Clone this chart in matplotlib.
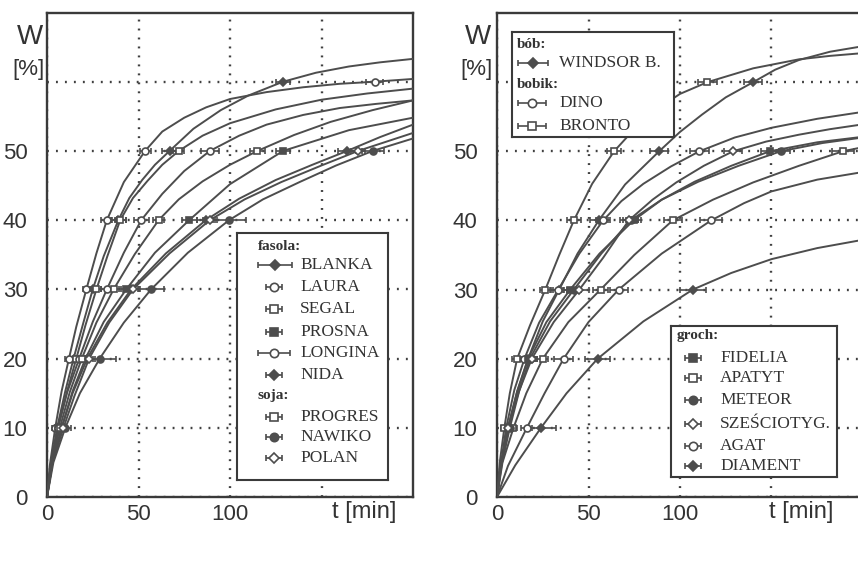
import matplotlib
matplotlib.use('Agg')
import matplotlib.pyplot as plt

LEVELS = [10, 20, 30, 40, 50, 60]
INK = '#4d4d4d'
SANS = ['Liberation Sans Narrow', 'Liberation Sans', 'DejaVu Sans']
SERIF = ['Liberation Serif', 'DejaVu Serif']

# ---- fasola / soja (left panel): time [min] vs W [%] ----
blanka_t = [0, 2, 5.5, 10, 14.5, 20, 25, 31, 39, 45, 52, 59, 67, 80, 95, 110, 129, 147, 165, 182, 200]
blanka_w = [0, 4.5, 10, 15.3, 20, 25.3, 30, 34.8, 40, 43.2, 45.8, 48, 50, 53.2, 55.9, 58, 60, 61.3, 62.2, 62.8, 63.3]
blanka_err = [2, 3, 3, 4, 4, 4]

laura_t = [0, 1.5, 4.5, 8, 12, 16, 21.5, 27, 32.7, 42, 53.6, 63, 75, 87, 100, 120, 140, 160, 179, 200]
laura_w = [0, 4.5, 10, 15.3, 20, 24.6, 30, 35.2, 40, 45.5, 50, 52.8, 54.8, 56.3, 57.5, 58.5, 59.2, 59.7, 60, 60.4]
laura_err = [1.5, 2, 2, 3, 3, 4.5]

segal_t = [0, 2, 6, 11, 16, 21, 27, 33, 40, 47, 55, 63, 72, 85, 100, 125, 150, 175, 200]
segal_w = [0, 4.3, 10, 15.3, 20, 24.8, 30, 34.8, 40, 43.2, 45.7, 48, 50, 52.2, 54, 56, 57.4, 58.3, 59]
segal_err = [1.5, 2, 2.5, 3, 3]

prosna_t = [0, 3, 8, 14, 21, 31, 43.3, 59, 77.7, 100, 129, 165, 200]
prosna_w = [0, 5, 10, 15.3, 20, 25.3, 30, 35.3, 40, 45.2, 50, 53, 54.8]
prosna_err = [2, 2.5, 3, 4, 4]

longina_t = [0, 2, 6, 11, 17.6, 25, 32.7, 42, 51.5, 63, 75, 89, 105, 120, 140, 160, 180, 200]
longina_w = [0, 4.3, 10, 15.1, 20, 25.3, 30, 35.3, 40, 43.8, 47.1, 50, 52.2, 53.8, 55.2, 56.2, 56.8, 57.3]
longina_err = [2, 3, 3, 4, 5]

nida_t = [0, 3, 8, 14, 22, 33, 46, 65, 86.8, 105, 125, 145, 164, 182, 200]
nida_w = [0, 5, 10, 15, 20, 25.2, 30, 35.2, 40, 43.1, 45.8, 48, 50, 52, 53.8]
nida_err = [2, 3, 4, 5, 5]

progres_t = [0, 2.5, 7, 12.5, 19, 27, 36.4, 48, 61, 72, 85, 100, 115, 135, 155, 178, 200]
progres_w = [0, 5, 10, 15.2, 20, 25.2, 30, 35.1, 40, 43, 45.6, 48, 50, 52.3, 54.2, 55.9, 57.3]
progres_err = [1.5, 2, 3, 3, 4]

nawiko_t = [0, 3.5, 10, 18, 28.8, 42, 56.9, 77, 99.5, 118, 138, 158, 178, 200]
nawiko_w = [0, 5, 10, 15, 20, 25.2, 30, 35.3, 40, 43, 45.5, 47.9, 50, 51.8]
nawiko_err = [3, 9, 7, 9, 6]

polan_t = [0, 3, 9, 15, 23, 34, 47, 67, 89, 108, 128, 150, 170, 200]
polan_w = [0, 5, 10, 14.6, 20, 25.2, 30, 35.2, 40, 43, 45.5, 47.9, 50, 52.6]
polan_err = [2, 3, 4, 4, 4]

# ---- bob / bobik / groch (right panel) ----
windsor_t = [0, 2, 6, 11, 17, 25, 34, 44, 55.6, 70, 88.6, 100, 112, 125, 140, 152, 165, 182, 200]
windsor_w = [0, 4.3, 10, 15.3, 20, 25.4, 30, 35.2, 40, 45.2, 50, 52.8, 55.3, 57.8, 60, 61.8, 63.2, 64.4, 65.2]
windsor_err = [3, 4, 5, 5, 5, 5]

dino_t = [0, 2, 5, 9.5, 15, 23, 33.5, 45, 58, 68, 80, 95, 110.6, 130, 150, 175, 200]
dino_w = [0, 4.5, 10, 15.5, 20, 25.2, 30, 35.2, 40, 42.8, 45.3, 47.8, 50, 52, 53.4, 54.7, 55.7]
dino_err = [2, 3, 3, 4, 5]

bronto_t = [0, 1.5, 4, 7, 11, 18, 26.4, 34, 42, 52, 64, 75, 88, 100, 115, 140, 165, 182, 200]
bronto_w = [0, 5, 10, 15, 20, 24.8, 30, 35, 40, 45.3, 50, 53.2, 56.2, 58.3, 60, 62, 63.3, 63.8, 64.2]
bronto_err = [2, 3, 3, 4, 4, 5]

fidelia_t = [0, 2, 6, 11, 17, 27, 40, 56, 74.6, 90, 108, 128, 149, 175, 200]
fidelia_w = [0, 4.3, 10, 15.2, 20, 25.3, 30, 35.2, 40, 43, 45.6, 47.9, 50, 51.3, 52.1]
fidelia_err = [2, 3, 4, 4, 5]

apatyt_t = [0, 3, 9, 16, 25, 39, 56.6, 75, 96, 118, 140, 165, 189, 200]
apatyt_w = [0, 5, 10, 15, 20, 25.3, 30, 35, 40, 43, 45.5, 47.9, 50, 50.6]
apatyt_err = [2, 3, 4, 5, 6]

meteor_t = [0, 2.5, 7, 12, 18, 29, 42, 57, 73, 90, 110, 132, 155, 178, 200]
meteor_w = [0, 4.6, 10, 15.2, 20, 25.4, 30, 35.2, 40, 43, 45.6, 47.9, 50, 51.2, 52]
meteor_err = [2, 3, 4, 4, 5]

szesc_t = [0, 2, 6, 12, 19, 31, 45, 58, 72, 85, 98, 113, 129, 147, 165, 182, 200]
szesc_w = [0, 4.3, 10, 15.3, 20, 25.3, 30, 34.6, 40, 43, 45.5, 47.9, 50, 51.4, 52.4, 53.2, 53.9]
szesc_err = [2, 3, 5, 5, 5]

agat_t = [0, 6, 16.3, 26, 36.4, 50, 66.5, 90, 117, 135, 150, 175, 200]
agat_w = [0, 4.5, 10, 15.0, 20, 25.3, 30, 35.2, 40, 42.5, 44.2, 45.9, 47]
agat_err = [3, 5, 5, 6]

diament_t = [0, 10, 24, 38, 55, 80, 107, 128, 150, 175, 200]
diament_w = [0, 4.6, 10, 15, 20, 25.4, 30, 32.4, 34.4, 36, 37.2]
diament_err = [8, 7, 7]

LEFT = [
    ('BLANKA', blanka_t, blanka_w, blanka_err, 'D', True),
    ('LAURA', laura_t, laura_w, laura_err, 'o', False),
    ('SEGAL', segal_t, segal_w, segal_err, 's', False),
    ('PROSNA', prosna_t, prosna_w, prosna_err, 's', True),
    ('LONGINA', longina_t, longina_w, longina_err, 'o', False),
    ('NIDA', nida_t, nida_w, nida_err, 'D', True),
    ('PROGRES', progres_t, progres_w, progres_err, 's', False),
    ('NAWIKO', nawiko_t, nawiko_w, nawiko_err, 'o', True),
    ('POLAN', polan_t, polan_w, polan_err, 'D', False),
]
RIGHT = [
    ('WINDSOR B.', windsor_t, windsor_w, windsor_err, 'D', True),
    ('DINO', dino_t, dino_w, dino_err, 'o', False),
    ('BRONTO', bronto_t, bronto_w, bronto_err, 's', False),
    ('FIDELIA', fidelia_t, fidelia_w, fidelia_err, 's', True),
    ('APATYT', apatyt_t, apatyt_w, apatyt_err, 's', False),
    ('METEOR', meteor_t, meteor_w, meteor_err, 'o', True),
    ('SZEŚCIOTYG.', szesc_t, szesc_w, szesc_err, 'D', False),
    ('AGAT', agat_t, agat_w, agat_err, 'o', False),
    ('DIAMENT', diament_t, diament_w, diament_err, 'D', True),
]
STYLE = {name: (m, f) for name, _, _, _, m, f in LEFT + RIGHT}

W_PX, H_PX = 858, 574


def px_rect(x0, y0, x1, y1):
    # pixel box (top-left origin) -> figure fraction rect
    return [x0 / W_PX, 1 - y1 / H_PX, (x1 - x0) / W_PX, (y1 - y0) / H_PX]


def marker_kw(marker, filled, ms=5):
    size = ms - 1 if marker == 'D' else ms
    return dict(fmt=marker, ms=size, mfc=INK if filled else 'white', mec=INK,
                mew=1.2, ecolor=INK, elinewidth=1.2, capsize=2.2, capthick=1.2)


def draw_panel(ax, curves):
    ax.set_xlim(0, 200)
    ax.set_ylim(0, 70)
    for name, t, w, err, marker, filled in curves:
        ax.plot(t, w, color=INK, lw=1.4, zorder=3)
        mt = [ti for ti, wi in zip(t, w) if wi in LEVELS]
        mw = [wi for wi in w if wi in LEVELS]
        ax.errorbar(mt, mw, xerr=err, zorder=4, **marker_kw(marker, filled))
    ax.set_xticks([0, 50, 100, 150], ['0', '50', '100', ''], family=SANS, fontsize=16)
    ax.set_yticks([0] + LEVELS, ['0', '10', '20', '30', '40', '50', ''], family=SANS, fontsize=16)
    ax.tick_params(length=0, colors='#333333')
    ax.tick_params(axis='y', pad=14)
    ax.tick_params(axis='x', pad=5)
    ax.grid(True, linestyle=(0, (0.8, 3)), lw=1.7, color='#404040', zorder=1)
    for sp in ax.spines.values():
        sp.set_color('#3a3a3a')
        sp.set_linewidth(1.7)


def draw_key(fig, box, rows):
    # box in figure pixels; rows in box-local pixels
    x0, y0, x1, y1 = box
    k = fig.add_axes(px_rect(x0, y0, x1, y1))
    k.set_xlim(0, x1 - x0)
    k.set_ylim(y1 - y0, 0)
    k.set_xticks([])
    k.set_yticks([])
    k.set_facecolor('white')
    for sp in k.spines.values():
        sp.set_color('#3a3a3a')
        sp.set_linewidth(1.5)
    for row in rows:
        if row[0] == 'head':
            _, text, x, y = row
            k.text(x, y, text, family=SERIF, fontsize=11, fontweight='bold',
                   color='#333333', ha='left', va='center')
        else:
            _, name, xc, half, xt, y = row
            marker, filled = STYLE[name]
            k.errorbar([xc], [y], xerr=[half], **marker_kw(marker, filled, ms=6))
            k.text(xt, y, name, family=SERIF, fontsize=12.5, color='#333333',
                   ha='left', va='center')


fig = plt.figure(figsize=(8.58, 5.74), dpi=100)

ax1 = fig.add_axes(px_rect(47, 12.5, 413, 497))
draw_panel(ax1, LEFT)
ax2 = fig.add_axes(px_rect(497, 13, 863, 497))
draw_panel(ax2, RIGHT)

for xc in (30, 478):
    fig.text(xc / W_PX, 1 - 37 / H_PX, 'W', family=SANS, fontsize=20,
             color='#333333', ha='center', va='center')
    fig.text((xc - 2) / W_PX, 1 - 70 / H_PX, '[%]', family=SANS, fontsize=16,
             color='#333333', ha='center', va='center')
for xc in (364, 801):
    fig.text(xc / W_PX, 1 - 512 / H_PX, 't [min]', family=SANS, fontsize=17,
             color='#333333', ha='center', va='center')

draw_key(fig, (237, 233, 388, 480), [
    ('head', 'fasola:', 21, 14),
    ('item', 'BLANKA', 38, 17, 63, 32),
    ('item', 'LAURA', 37, 8, 63, 54),
    ('item', 'SEGAL', 37, 8, 63, 76),
    ('item', 'PROSNA', 37, 8, 63, 99),
    ('item', 'LONGINA', 37, 16, 63, 120),
    ('item', 'NIDA', 37, 8, 63, 142),
    ('head', 'soja:', 21, 162),
    ('item', 'PROGRES', 37, 8, 63, 184),
    ('item', 'NAWIKO', 37, 8, 63, 204),
    ('item', 'POLAN', 37, 8, 63, 225),
])
draw_key(fig, (512, 32, 674, 137), [
    ('head', 'bób:', 5, 13),
    ('item', 'WINDSOR B.', 21, 15, 47, 31),
    ('head', 'bobik:', 5, 53),
    ('item', 'DINO', 20, 14, 47, 71),
    ('item', 'BRONTO', 20, 14, 47, 94),
])
draw_key(fig, (671, 326, 837, 477), [
    ('head', 'groch:', 6, 10),
    ('item', 'FIDELIA', 22, 8, 49, 32),
    ('item', 'APATYT', 22, 8, 49, 52),
    ('item', 'METEOR', 22, 8, 49, 74),
    ('item', 'SZEŚCIOTYG.', 22, 8, 49, 98),
    ('item', 'AGAT', 22, 8, 49, 120),
    ('item', 'DIAMENT', 22, 8, 49, 140),
])

fig.savefig('out.png', dpi=100)
